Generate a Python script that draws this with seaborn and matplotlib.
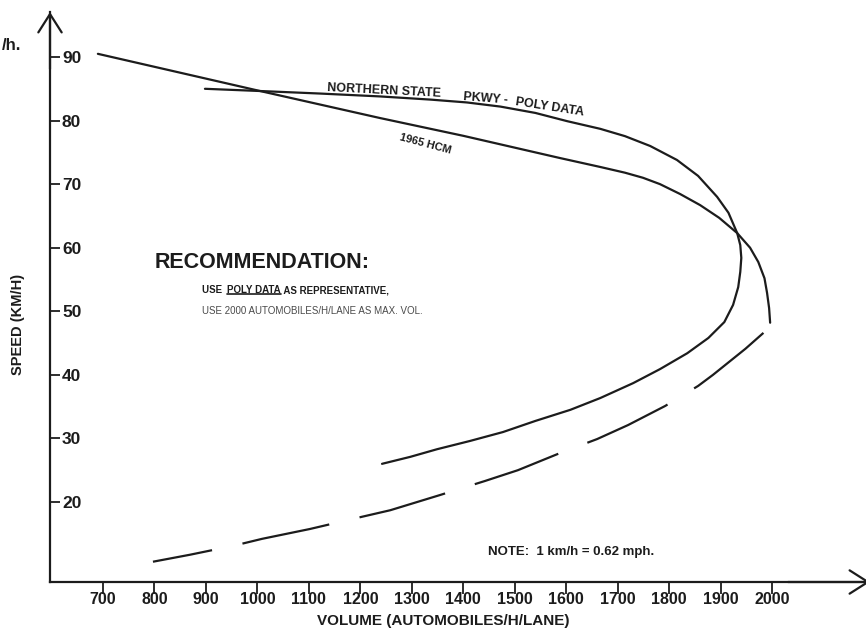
import matplotlib
matplotlib.use("Agg")
import matplotlib.pyplot as plt
import pandas as pd
import seaborn as sns
from matplotlib.lines import Line2D

# ---- data -----------------------------------------------------------------
# 1965 HCM speed-volume relation, uncongested branch (solid)
hcm_volume = [690, 1005, 1238, 1400, 1588, 1666, 1714, 1749, 1782, 1821, 1860, 1897,
              1932, 1957, 1973, 1985, 1990, 1994, 1996]
hcm_speed = [90.5, 84.65, 80.4, 77.6, 74.1, 72.7, 71.8, 71.0, 70.0, 68.45, 66.7, 64.7,
             62.3, 60.0, 57.75, 55.2, 52.9, 50.5, 48.2]

# 1965 HCM congested branch (dashed)
hcm_low_volume = [1983, 1948, 1885, 1856, 1792, 1720, 1660, 1588, 1506, 1442, 1355,
                  1258, 1194, 1102, 1009, 953, 869, 797]
hcm_low_speed = [46.6, 44.1, 40.0, 38.25, 35.1, 32.1, 29.9, 27.7, 25.0, 23.3, 21.1,
                 18.7, 17.5, 15.75, 14.2, 13.1, 11.7, 10.6]

# Northern State Parkway - Poly data
poly_volume = [898, 1005, 1122, 1238, 1336, 1407, 1472, 1540, 1602, 1666, 1714, 1763,
               1815, 1856, 1893, 1915, 1932, 1938, 1940, 1938, 1934, 1924, 1907, 1876,
               1835, 1782, 1730, 1666, 1608, 1540, 1477, 1413, 1349, 1297, 1242]
poly_speed = [85.0, 84.65, 84.25, 83.8, 83.3, 82.85, 82.2, 81.2, 79.9, 78.7, 77.55, 76.0,
              73.8, 71.3, 68.0, 65.5, 62.3, 60.4, 58.4, 56.2, 53.8, 51.0, 48.3, 45.8,
              43.4, 40.9, 38.7, 36.35, 34.5, 32.75, 31.0, 29.6, 28.3, 27.1, 26.0]

x_ticks = [700, 800, 900, 1000, 1100, 1200, 1300, 1400, 1500, 1600, 1700, 1800, 1900, 2000]
y_ticks = [20, 30, 40, 50, 60, 70, 80, 90]
x_tick_labels = [str(v) for v in x_ticks]
y_tick_labels = [str(v) for v in y_ticks]

# ---- style ----------------------------------------------------------------
sns.set_theme(style="white")
plt.rcParams["font.family"] = ["Liberation Sans", "DejaVu Sans"]
INK = "#1c1c1c"

fig = plt.figure(figsize=(8.66, 6.32), dpi=100)
ax = fig.add_axes([50 / 866, 50 / 632, 820 / 866, 570 / 632])

hcm = pd.DataFrame({"volume": hcm_volume, "speed": hcm_speed})
hcm_low = pd.DataFrame({"volume": hcm_low_volume, "speed": hcm_low_speed})
poly = pd.DataFrame({"volume": poly_volume, "speed": poly_speed})

sns.lineplot(data=hcm, x="volume", y="speed", sort=False, estimator=None,
             color=INK, lw=1.6, ax=ax)
sns.lineplot(data=poly, x="volume", y="speed", sort=False, estimator=None,
             color=INK, lw=1.6, ax=ax)
line_low = sns.lineplot(data=hcm_low, x="volume", y="speed", sort=False, estimator=None,
                        color=INK, lw=1.6, ax=ax).lines[-1]
line_low.set_dashes((40, 14))
for ln in ax.lines:
    ln.set_solid_joinstyle("round")
    ln.set_solid_capstyle("round")

ax.set_xlim(597, 2190)
ax.set_ylim(7.41, 97.08)

# ---- axes: only left and bottom, with open arrowheads ----------------------
for side in ("top", "right"):
    ax.spines[side].set_visible(False)
for side in ("left", "bottom"):
    ax.spines[side].set_color(INK)
    ax.spines[side].set_linewidth(1.6)

arrow = dict(arrowstyle="->,head_length=1.1,head_width=0.7", lw=1.6, color=INK,
             shrinkA=0, shrinkB=0)
ax.annotate("", xy=(0, 1), xycoords="axes fraction", xytext=(0, 0.9),
            arrowprops=arrow, annotation_clip=False)
ax.annotate("", xy=(1, 0), xycoords="axes fraction", xytext=(0.9, 0),
            arrowprops=arrow, annotation_clip=False)

ax.set_xticks(x_ticks)
ax.set_xticklabels(x_tick_labels, fontsize=11.5, fontweight="bold", color=INK)
ax.set_yticks(y_ticks)
ax.set_yticklabels(y_tick_labels, fontsize=12.5, fontweight="bold", color=INK, ha="left")
ax.tick_params(axis="x", direction="out", length=8.6, width=1.3, color=INK, pad=-1.4,
               bottom=True)
ax.tick_params(axis="y", direction="in", length=7.2, width=1.3, color=INK, pad=-8.6,
               left=True)

ax.set_xlabel("VOLUME (AUTOMOBILES/H/LANE)", fontsize=11, fontweight="bold", color=INK)
ax.set_ylabel("SPEED (KM/H)", fontsize=10.5, fontweight="bold", color=INK)
ax.xaxis.label.set_va("center")
ax.yaxis.label.set_va("center")
ax.xaxis.set_label_coords(0.480, -0.0684)
ax.yaxis.set_label_coords(-0.0393, 0.451)

# ---- curve labels ----------------------------------------------------------
lab = dict(fontsize=9, fontweight="bold", color=INK, ha="left", va="baseline",
           rotation_mode="anchor")
ax.text(1135, 84.65, "NORTHERN STATE", rotation=-2.9, **lab)
ax.text(1400, 83.24, "PKWY -", rotation=-4.5, **lab)
ax.text(1500, 82.45, "POLY DATA", rotation=-8.8, **lab)
ax.text(1326, 76.3, "1965 HCM", fontsize=8, fontweight="bold", color=INK, ha="center",
        va="center", rotation=-15, rotation_mode="anchor")

# ---- recommendation block --------------------------------------------------
ax.text(801, 57.75, "RECOMMENDATION:", fontsize=15.5, fontweight="bold", color=INK,
        ha="left", va="center")
rec = dict(fontsize=7, fontweight="bold", color=INK, va="bottom", ha="left")
t_use = ax.text(892, 52.5, "USE  ", **rec)
t_poly = ax.annotate("POLY DATA", xy=(1, 0), xycoords=t_use, **rec)
ax.annotate(" AS REPRESENTATIVE,", xy=(1, 0), xycoords=t_poly, **rec)
ax.text(892, 50.0, "USE 2000 AUTOMOBILES/H/LANE AS MAX. VOL.", fontsize=7,
        color="#4a4a4a", ha="left", va="center")

ax.text(1448, 12.13, "NOTE:  1 km/h = 0.62 mph.", fontsize=9.5, fontweight="bold",
        color=INK, ha="left", va="center")

fig.text(21 / 866, 1 - 45 / 632, "/h.", fontsize=12, fontweight="bold", color=INK,
         ha="right", va="center")

# underline under "POLY DATA"
fig.canvas.draw()
bb = t_poly.get_window_extent(fig.canvas.get_renderer())
inv = fig.transFigure.inverted()
(x0, y0), (x1, _) = inv.transform([[bb.x0, bb.y0], [bb.x1, bb.y1]])
fig.add_artist(Line2D([x0, x1], [y0 + 1.5 / 632, y0 + 1.5 / 632], color=INK, lw=1.2))

fig.savefig("out.png", dpi=100)
